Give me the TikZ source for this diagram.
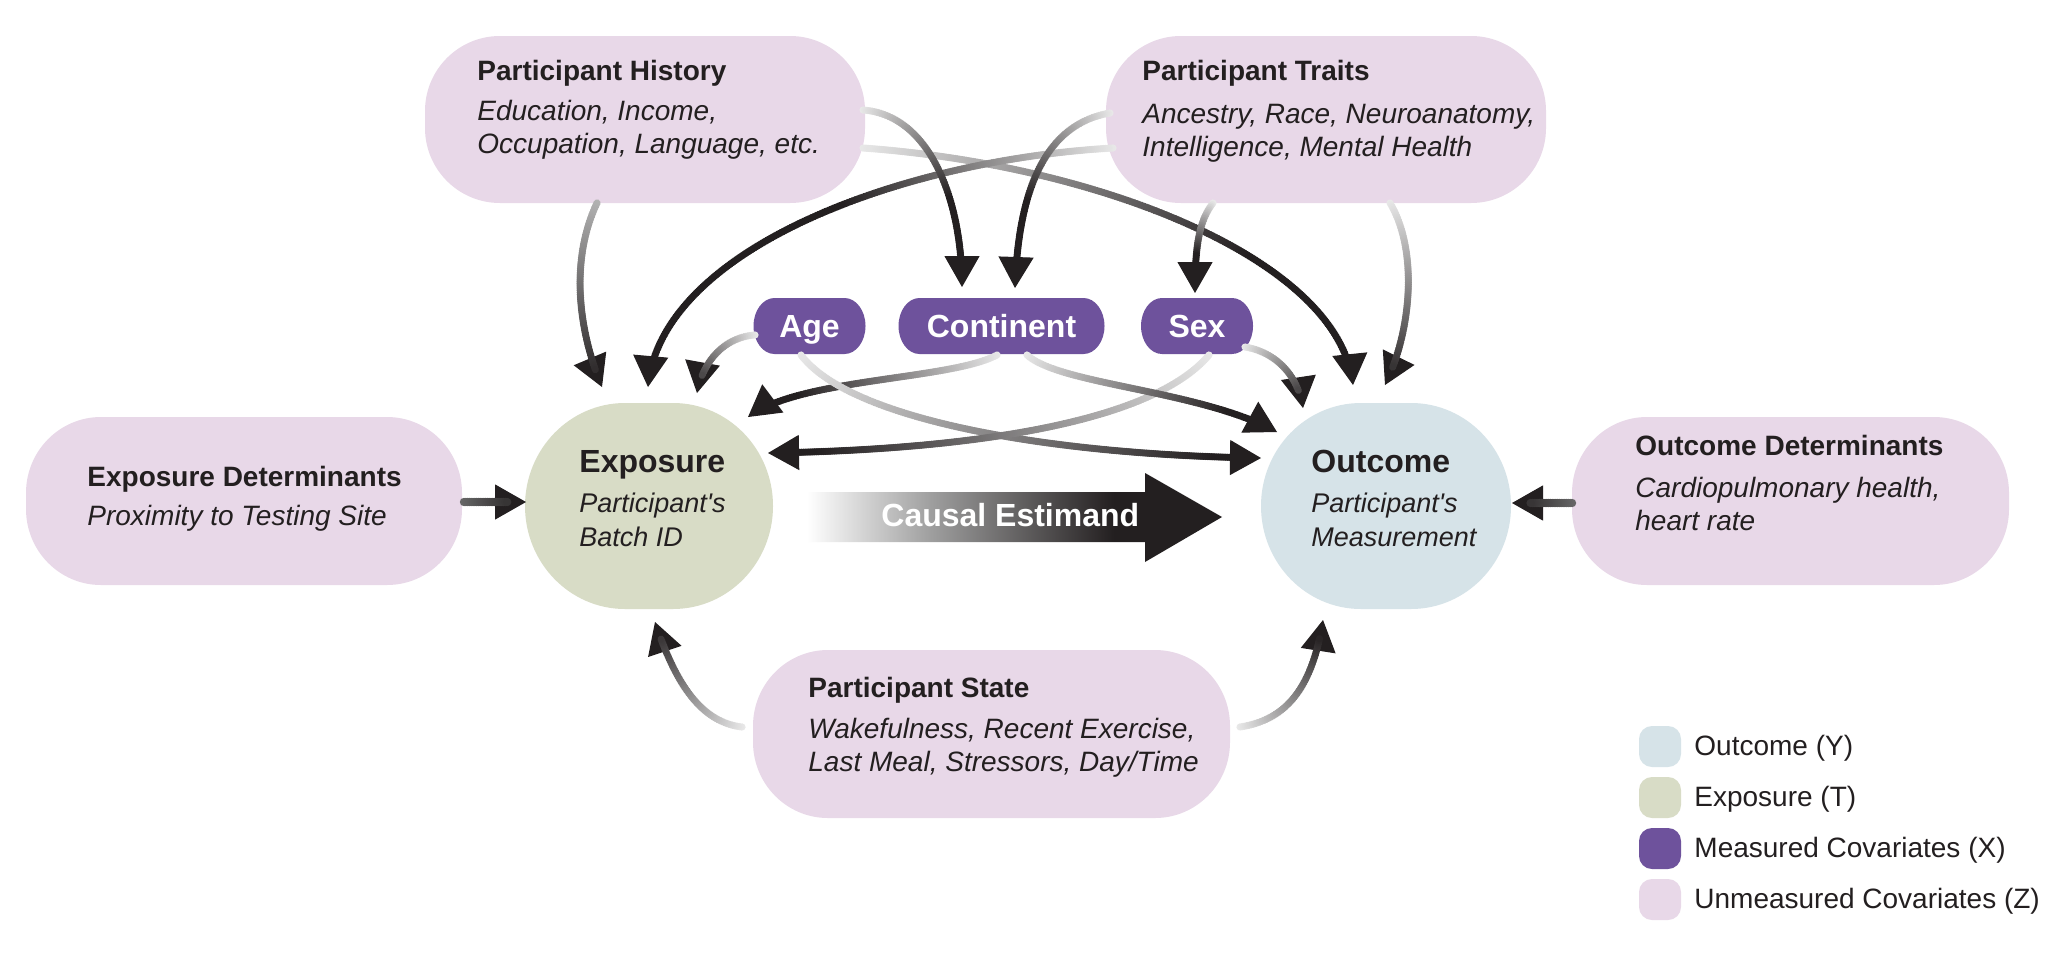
\documentclass[tikz,border=0pt]{standalone}
\usepackage{fontspec}
\setmainfont{Liberation Sans}[Ligatures=TeXOff]
\usetikzlibrary{arrows.meta,calc,decorations.markings}

\definecolor{zcol}{RGB}{232,216,232}
\definecolor{tcol}{RGB}{216,220,198}
\definecolor{ycol}{RGB}{214,227,232}
\definecolor{xcol}{RGB}{110,82,156}
\definecolor{ink}{RGB}{35,31,32}
\definecolor{adark}{RGB}{35,31,32}
\definecolor{alight}{RGB}{232,232,232}

\pgfdeclarehorizontalshading{estshade}{100bp}{color(0bp)=(white); color(25bp)=(white); color(40bp)=(black!38); color(62bp)=(adark); color(100bp)=(adark)}

\newcommand\gspan{1}
\newcommand\grad{1.8pt}
\newcommand\mygradseg{%
  \pgfmathsetmacro\gfr{min(100,((\pgfkeysvalueof{/pgf/decoration/mark info/sequence number}-1)*0.9/(\gspan*\pgfdecoratedpathlength))*100)}%
  \pgfsetfillcolor{adark!\gfr!alight}%
  \pgfpathcircle{\pgfpointorigin}{\grad}%
  \pgfusepath{fill}%
}

\tikzset{
  garrow/.style={draw=adark, line width=0.6pt, dash pattern=on 0pt off 3000pt,
    -{Triangle[length=15.5pt,width=17.5pt]},
    postaction={decorate},
    decoration={markings, mark=between positions 0 and -9pt step 0.9pt with {\mygradseg}}},
  gspan/.code={\def\gspan{#1}},
  gfrom/.code={\colorlet{alight}{#1}},
  gwidth/.code={\def\grad{#1}},
  ttl/.style={font=\fontsize{14pt}{16.5pt}\selectfont\bfseries, text=ink, inner sep=0pt, anchor=base west},
  bdy/.style={font=\fontsize{14pt}{16.5pt}\selectfont\itshape, text=ink, inner sep=0pt, anchor=base west, align=left},
  bigttl/.style={font=\fontsize{16pt}{19pt}\selectfont\bfseries, text=ink, inner sep=0pt, anchor=base west},
  smbdy/.style={font=\fontsize{13.5pt}{17pt}\selectfont\itshape, text=ink, inner sep=0pt, anchor=base west, align=left},
  covlbl/.style={font=\fontsize{16pt}{19pt}\selectfont\bfseries, text=white, inner sep=0pt, anchor=base},
  estlbl/.style={font=\fontsize{16pt}{19pt}\selectfont\bfseries, text=white, inner sep=0pt, anchor=base west},
  lgd/.style={font=\fontsize{14pt}{16.5pt}\selectfont, text=ink, inner sep=0pt, anchor=base west},
}

% name, cx, cy, w, h, rx, ry, colour
\newcommand\myblob[8]{%
  \fill[#8] ({#2-#4/2+#6},{#3-#5/2}) -- ({#2+#4/2-#6},{#3-#5/2})
     arc[start angle=-90,end angle=0,x radius=#6,y radius=#7]
     -- ({#2+#4/2},{#3+#5/2-#7})
     arc[start angle=0,end angle=90,x radius=#6,y radius=#7]
     -- ({#2-#4/2+#6},{#3+#5/2})
     arc[start angle=90,end angle=180,x radius=#6,y radius=#7]
     -- ({#2-#4/2},{#3-#5/2+#7})
     arc[start angle=180,end angle=270,x radius=#6,y radius=#7]
     -- cycle;
  \node[inner sep=0pt,outer sep=0pt,minimum width={#4*0.5pt},minimum height={#5*0.5pt}] (#1) at (#2,#3) {};
}

\begin{document}
\begin{tikzpicture}[x=0.5pt,y=-0.5pt]
\fill[white] (0,0) rectangle (2070,964);
\useasboundingbox (0,0) rectangle (2070,964);

% ---- shapes
\myblob{hist}{645}{119.5}{440}{167}{75}{75}{zcol}
\myblob{traits}{1326}{119.5}{440}{167}{75}{75}{zcol}
\myblob{expdet}{244}{501}{436}{168}{75}{76}{zcol}
\myblob{outdet}{1790.5}{501}{437}{168}{75}{76}{zcol}
\myblob{state}{991.5}{734}{477}{168}{75}{76}{zcol}
\myblob{expo}{649}{506}{248}{206}{100}{103}{tcol}
\myblob{outc}{1386}{506}{250}{206}{100}{103}{ycol}
\myblob{age}{809.5}{326}{112}{56}{21}{28}{xcol}
\myblob{cont}{1001.5}{326}{206}{56}{21}{28}{xcol}
\myblob{sex}{1197}{326}{112}{56}{21}{28}{xcol}

% ---- connectors
\draw[garrow,gspan=1,gfrom=black!30] ($(hist.south)+(-48,0)$) .. controls +(-27,57) and +(-24,-57) .. ($(expo.north)+(-47,-16)$);
\draw[garrow,gspan=0.7] ($(hist.east)+(-2,28.5)$) .. controls +(237,17) and +(-13,-125) .. ($(outc.north)+(-33,-18)$);
\draw[garrow,gspan=0.5] ($(traits.west)+(7,28.5)$) .. controls +(-213,12) and +(12,-137) .. ($(expo.north)+(-1,-16)$);
\draw[garrow,gspan=0.6] ($(hist.east)+(-2,-9.5)$) .. controls +(67,5) and +(0,-87) .. ($(cont.north)+(-39.5,-11)$);
\draw[garrow,gspan=0.6] ($(traits.west)+(4,-6.5)$) .. controls +(-70,12) and +(3,-88) .. ($(cont.north)+(13.5,-10)$);
\draw[garrow,gspan=0.6] ($(traits.south)+(-113,0)$) .. controls +(-15,19) and +(0,-43) .. ($(sex.north)+(-2,-5)$);
\draw[garrow,gspan=1] ($(traits.south)+(64,0)$) .. controls +(28,47) and +(27,-55) .. ($(outc.north)+(-1,-18)$);
\draw[garrow,gspan=1] ($(age.west)+(1.5,9)$) .. controls +(-29.5,2) and +(6,-33) .. ($(expo.north)+(48,-10)$);
\draw[garrow,gspan=0.8] ($(cont.south)+(-4.5,1)$) .. controls +(-47,25) and +(52,-39) .. ($(expo.center)+(99,-89)$);
\draw[garrow,gspan=0.9] ($(age.south)+(-8.5,1)$) .. controls +(49,65) and +(-211,-3) .. ($(outc.west)+(0,-48)$);
\draw[garrow,gspan=0.9] ($(sex.south)+(12,1)$) .. controls +(-59,70) and +(192,-3) .. ($(expo.east)+(-5,-53)$);
\draw[garrow,gspan=0.8] ($(cont.south)+(25.5,1)$) .. controls +(33,30) and +(-77,-42) .. ($(outc.center)+(-109,-74)$);
\draw[garrow,gspan=1] ($(sex.east)+(-8,21)$) .. controls +(30.5,5) and +(-5,-33) .. ($(outc.center)+(-83,-98)$);
\draw[garrow,gspan=1] ($(state.west)+(-11,-7)$) .. controls +(-42,-5) and +(20,60) .. ($(expo.south)+(6,13)$);
\draw[garrow,gspan=0.9] ($(state.east)+(10,-7)$) .. controls +(45,-7) and +(-11,70) .. ($(outc.south)+(-63,11)$);
\draw[garrow,gfrom=black!60,gwidth=2.1pt] ($(expdet.east)+(2,1)$) -- ($(expo.west)+(1,-4)$);
\draw[garrow,gfrom=black!60,gwidth=2.1pt] ($(outdet.west)+(0,2)$) -- ($(outc.east)+(1,-3)$);

% ---- causal estimand arrow
\shade[shading=estshade] (807,492) -- (1145,492) -- (1145,473) -- (1222,517) -- (1145,562) -- (1145,542) -- (807,542) -- cycle;
\node[estlbl] (est) at (881,526) {Causal Estimand};

% ---- texts (multi-line texts are anchored at their last baseline)
\node[ttl] (histT) at (477,80) {Participant History};
\node[bdy] (histB) at (477,153) {Education, Income,\\Occupation, Language, etc.};
\node[ttl] (traitsT) at (1142,80) {Participant Traits};
\node[bdy] (traitsB) at (1142,156) {Ancestry, Race, Neuroanatomy,\\Intelligence, Mental Health};
\node[ttl] (expdetT) at (87,486) {Exposure Determinants};
\node[bdy] (expdetB) at (87,525) {Proximity to Testing Site};
\node[ttl] (outdetT) at (1635,455) {Outcome Determinants};
\node[bdy] (outdetB) at (1635,530) {Cardiopulmonary health,\\heart rate};
\node[ttl] (stateT) at (808,697) {Participant State};
\node[bdy] (stateB) at (808,771) {Wakefulness, Recent Exercise,\\Last Meal, Stressors, Day/Time};
\node[bigttl] (expoT) at (579,472) {Exposure};
\node[smbdy] (expoB) at (579,546) {Participant's\\Batch ID};
\node[bigttl] (outcT) at (1311,472) {Outcome};
\node[smbdy] (outcB) at (1311,546) {Participant's\\Measurement};
\node[covlbl] (ageT) at (809.5,337) {Age};
\node[covlbl] (contT) at (1001.5,337) {Continent};
\node[covlbl] (sexT) at (1197,337) {Sex};

% ---- legend
\myblob{lgy}{1660}{746.5}{42}{41}{13}{13}{ycol}
\myblob{lgt}{1660}{797.5}{42}{41}{13}{13}{tcol}
\myblob{lgx}{1660}{848.5}{42}{41}{13}{13}{xcol}
\myblob{lgz}{1660}{899.5}{42}{41}{13}{13}{zcol}
\node[lgd] (lgyT) at (1694,755.5) {Outcome (Y)};
\node[lgd] (lgtT) at (1694,806.5) {Exposure (T)};
\node[lgd] (lgxT) at (1694,857.5) {Measured Covariates (X)};
\node[lgd] (lgzT) at (1694,908.5) {Unmeasured Covariates (Z)};
\end{tikzpicture}
\end{document}
